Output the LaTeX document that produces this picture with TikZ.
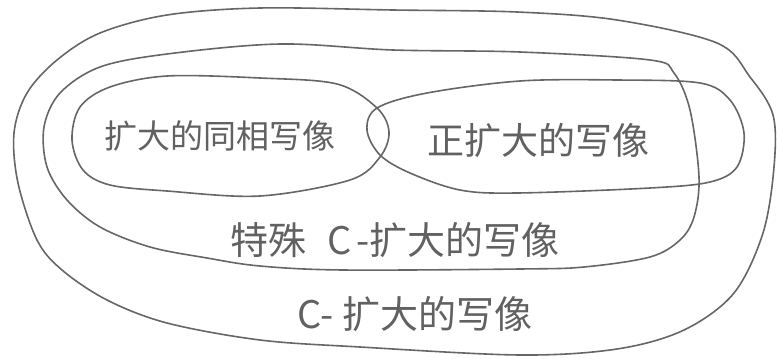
\documentclass[tikz,border=0pt]{standalone}
\usepackage{fontspec}
\newfontfamily\cjk{Noto Sans CJK SC}
\tikzset{
  pencil/.style={draw=black!60, line width=1.6pt, line join=round},
  lbl/.style={text=black!62, inner sep=0pt, font=\cjk},
}
\begin{document}
\begin{tikzpicture}[x=1pt,y=-1pt]
\useasboundingbox (0,0) rectangle (777,359);
% outer: C-expanding maps
\draw[pencil] plot[smooth cycle, tension=0.55] coordinates {
 (100,33) (167,15) (260,8) (393,10) (517,12) (617,20) (717,43) (750,77)
 (773,115) (774,167) (763,233) (734,293) (684,330) (617,349) (520,355)
 (360,347) (260,340) (167,323) (107,300) (62,270) (37,240) (18,183)
 (14,133) (27,93) (57,60)};
% middle: special C-expanding maps
\draw[pencil] plot[smooth cycle, tension=0.55] coordinates {
 (100,67) (167,54) (280,44) (393,50) (520,52) (650,60) (674,73) (690,110)
 (699,177) (694,217) (680,240) (650,257) (584,267) (520,269) (343,270)
 (260,266) (207,258) (150,247) (100,227) (67,200) (47,167) (44,127) (60,93)};
% left inner
\draw[pencil] plot[smooth cycle, tension=0.55] coordinates {
 (110,87) (167,76) (260,78) (337,84) (377,108) (389,132) (380,157)
 (350,180) (260,196) (167,191) (110,185) (83,170) (72,140) (80,107)};
% right inner
\draw[pencil] plot[smooth cycle, tension=0.55] coordinates {
 (427,93) (520,81) (617,80) (700,83) (730,100) (744,133) (737,167)
 (710,182) (650,188) (517,193) (460,190) (410,173) (380,155) (367,130)
 (377,108)};
\node[lbl, font=\cjk\fontsize{33}{36}\selectfont] (t1) at (220,136) {扩大的同相写像};
\node[lbl, font=\cjk\fontsize{37}{40}\selectfont] (t2) at (538,140) {正扩大的写像};
\node[lbl, font=\cjk\fontsize{38}{42}\selectfont] (t3) at (395,240) {特殊\hspace{0.55em}C\hspace{0.12em}-扩大的写像};
\node[lbl, font=\cjk\fontsize{38}{42}\selectfont] (t4) at (415,314) {C-\hspace{0.25em}扩大的写像};
\end{tikzpicture}
\end{document}
